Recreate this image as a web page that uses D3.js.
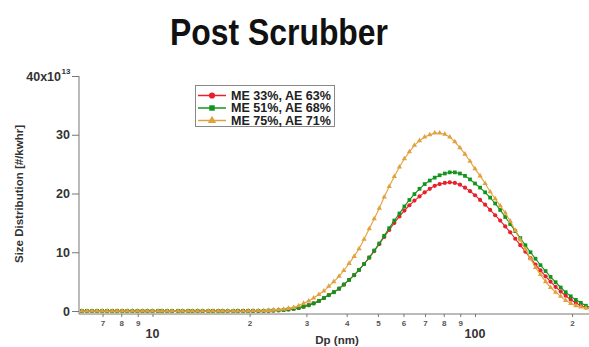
<!DOCTYPE html>
<html>
<head>
<meta charset="utf-8">
<script src="https://cdn.jsdelivr.net/npm/d3@7"></script>
<style>
  html, body { margin: 0; padding: 0; background: #fff; }
  svg { display: block; }
  text { font-family: "Liberation Sans", Arial, sans-serif; }
</style>
</head>
<body>
<svg id="chart" width="589" height="347"></svg>
<script>
// Mobility diameter bins (nm), 64 channels per decade
const diameters = [
  6.04, 6.26, 6.49, 6.73, 6.98, 7.23, 7.50, 7.77, 8.06, 8.35,
  8.66, 8.98, 9.31, 9.65, 10.0, 10.4, 10.7, 11.1, 11.5, 12.0,
  12.4, 12.9, 13.3, 13.8, 14.3, 14.9, 15.4, 16.0, 16.5, 17.1,
  17.8, 18.4, 19.1, 19.8, 20.5, 21.3, 22.1, 22.9, 23.7, 24.6,
  25.5, 26.4, 27.4, 28.4, 29.4, 30.5, 31.6, 32.8, 34.0, 35.2,
  36.5, 37.9, 39.2, 40.7, 42.2, 43.7, 45.3, 47.0, 48.7, 50.5,
  52.3, 54.2, 56.2, 58.3, 60.4, 62.6, 64.9, 67.3, 69.8, 72.4,
  75.0, 77.7, 80.6, 83.5, 86.6, 89.8, 93.1, 96.5, 100.0, 103.7,
  107.5, 111.4, 115.5, 119.7, 124.1, 128.6, 133.3, 138.2, 143.3, 148.6,
  154.0, 159.6, 165.5, 171.5, 177.8, 184.4, 191.1, 198.1, 205.4, 212.9,
  220.7, 228.8
];

// Size distribution, units of 1e13 #/kWhr
const me33 = [
  0, 0, 0, 0, 0, 0, 0, 0, 0, 0,
  0, 0, 0, 0, 0, 0, 0, 0, 0, 0,
  0, 0, 0, 0, 0, 0, 0, 0, 0, 0,
  0, 0.01, 0.01, 0.01, 0.02, 0.02, 0.03, 0.05, 0.08, 0.12,
  0.18, 0.27, 0.38, 0.53, 0.73, 1.0, 1.3, 1.7, 2.2, 2.7,
  3.2, 3.8, 4.5, 5.3, 6.1, 7.0, 8.0, 9.1, 10.2, 11.4,
  12.6, 13.8, 15.0, 16.1, 17.1, 18.0, 18.8, 19.5, 20.2, 20.8,
  21.3, 21.6, 21.8, 21.9, 21.8, 21.5, 21.0, 20.4, 19.7, 18.9,
  18.1, 17.2, 16.3, 15.4, 14.4, 13.4, 12.3, 11.2, 10.1, 9.0,
  7.9, 6.9, 5.9, 5.0, 4.1, 3.3, 2.6, 1.9, 1.4, 0.9,
  0.6, 0.4
];
const me51 = [
  0, 0, 0, 0, 0, 0, 0, 0, 0, 0,
  0, 0, 0, 0, 0, 0, 0, 0, 0, 0,
  0, 0, 0, 0, 0, 0, 0, 0, 0, 0,
  0, 0.01, 0.01, 0.01, 0.02, 0.02, 0.03, 0.05, 0.08, 0.12,
  0.18, 0.27, 0.38, 0.52, 0.72, 0.98, 1.3, 1.7, 2.2, 2.7,
  3.2, 3.8, 4.5, 5.3, 6.1, 7.0, 8.0, 9.1, 10.3, 11.5,
  12.8, 14.1, 15.4, 16.6, 17.8, 18.9, 19.9, 20.8, 21.6, 22.2,
  22.7, 23.1, 23.4, 23.6, 23.6, 23.4, 23.0, 22.4, 21.7, 21.0,
  20.2, 19.3, 18.3, 17.2, 16.0, 14.8, 13.6, 12.4, 11.2, 10.0,
  8.9, 7.8, 6.8, 5.8, 4.9, 4.0, 3.2, 2.5, 1.9, 1.4,
  0.9, 0.6
];
const me75 = [
  0, 0, 0, 0, 0, 0, 0, 0, 0, 0,
  0, 0, 0, 0, 0, 0, 0, 0, 0, 0,
  0, 0, 0, 0, 0, 0, 0, 0, 0, 0,
  0, 0.01, 0.01, 0.02, 0.03, 0.04, 0.05, 0.1, 0.15, 0.2,
  0.3, 0.45, 0.6, 0.9, 1.3, 1.7, 2.2, 2.8, 3.4, 4.2,
  5.0, 5.9, 6.9, 8.1, 9.3, 10.6, 12.2, 14.0, 15.7, 17.5,
  19.4, 21.2, 22.9, 24.5, 25.9, 27.1, 28.2, 29.0, 29.6, 30.0,
  30.3, 30.3, 30.1, 29.6, 28.8, 27.8, 26.7, 25.5, 24.2, 23.0,
  21.7, 20.3, 19.1, 17.9, 16.7, 15.3, 13.7, 12.1, 10.5, 8.9,
  7.4, 6.2, 5.0, 4.0, 3.2, 2.5, 1.8, 1.3, 0.9, 0.7,
  0.5, 0.35
];

const seriesNames = ["ME 33%, AE 63%", "ME 51%, AE 68%", "ME 75%, AE 71%"];
const seriesColors = ["#e8202a", "#12951e", "#e0a23e"];
const seriesShapes = [d3.symbolCircle, d3.symbolSquare, d3.symbolTriangle];
const seriesSizes = [14, 14, 12];

const yTicks = [0, 10, 20, 30];
const yTop = 40;
const yExponent = "13";
const xMinorTicks = [7, 8, 9, 10, 20, 30, 40, 50, 60, 70, 80, 90, 100, 200];
const xMajorTicks = [10, 100];

const svg = d3.select("#chart");

const x = d3.scaleLog().domain([10, 100]).range([152.5, 475]);
const y = d3.scaleLinear().domain([0, yTop]).range([311, 76]);
const plotLeft = 79, plotRight = 589, axisY = 314;

// Title
svg.append("text")
  .attr("x", 170).attr("y", 45)
  .attr("textLength", 218).attr("lengthAdjust", "spacingAndGlyphs")
  .style("font-size", "37px").style("font-weight", "bold").attr("fill", "#111")
  .text("Post Scrubber");

// Plot clip
svg.append("defs").append("clipPath").attr("id", "plotclip")
  .append("rect").attr("x", plotLeft).attr("y", 60).attr("width", plotRight - plotLeft).attr("height", 260);

const axisColor = "#777";
const labelColor = "#333";

// Y axis
const yAxis = svg.append("g").attr("transform", `translate(${plotLeft},0)`)
  .call(d3.axisLeft(y).tickValues(yTicks.concat([yTop])).tickSize(7).tickPadding(2)
    .tickFormat(d => d === yTop ? "" : d));
yAxis.select(".domain").remove();
yAxis.selectAll("line").attr("stroke", axisColor);
yAxis.selectAll("text").style("font-size", "12.5px").style("font-weight", "bold").attr("fill", labelColor);
svg.append("line").attr("x1", plotLeft).attr("x2", plotLeft)
  .attr("y1", y(yTop)).attr("y2", axisY).attr("stroke", axisColor);

// Top tick label with exponent
svg.append("text")
  .attr("x", 61).attr("y", y(yTop) + 4.5).attr("text-anchor", "end")
  .style("font-size", "12.5px").style("font-weight", "bold").attr("fill", labelColor)
  .text(yTop + "x10");
svg.append("text")
  .attr("x", 61.5).attr("y", y(yTop) - 2)
  .style("font-size", "8px").style("font-weight", "bold").attr("fill", labelColor)
  .text(yExponent);

// Y axis title
svg.append("text")
  .attr("transform", `translate(23,194) rotate(-90)`)
  .attr("text-anchor", "middle")
  .style("font-size", "11.5px").style("font-weight", "bold").attr("fill", labelColor)
  .text("Size Distribution [#/kwhr]");

// X axis
const xAxis = svg.append("g").attr("transform", `translate(0,${axisY})`)
  .call(d3.axisBottom(x).tickValues(xMinorTicks).tickSize(3).tickPadding(3)
    .tickFormat(d => xMajorTicks.includes(d) ? "" : String(d).charAt(0)));
xAxis.select(".domain").remove();
xAxis.selectAll("line").attr("stroke", axisColor);
xAxis.selectAll("text").style("font-size", "8px").style("font-weight", "bold").attr("fill", "#555");
svg.append("line").attr("x1", plotLeft).attr("x2", plotRight)
  .attr("y1", axisY).attr("y2", axisY).attr("stroke", axisColor);

svg.selectAll(".major").data(xMajorTicks).enter().append("text")
  .attr("class", "major")
  .attr("x", d => x(d)).attr("y", 338).attr("text-anchor", "middle")
  .style("font-size", "12.5px").style("font-weight", "bold").attr("fill", labelColor)
  .text(d => d);

svg.append("text")
  .attr("x", 337).attr("y", 344).attr("text-anchor", "middle")
  .style("font-size", "11.5px").style("font-weight", "bold").attr("fill", labelColor)
  .text("Dp (nm)");

// Series
const seriesData = [me33, me51, me75];
const plot = svg.append("g").attr("clip-path", "url(#plotclip)");
const line = d3.line().x(d => x(d[0])).y(d => y(d[1]));

seriesData.forEach((vals, k) => {
  const pts = diameters.map((d, i) => [d, vals[i]]);
  const g = plot.append("g");
  g.append("path").datum(pts)
    .attr("d", line).attr("fill", "none")
    .attr("stroke", seriesColors[k]).attr("stroke-width", 1.1);
  g.selectAll("path.pt").data(pts).enter().append("path")
    .attr("class", "pt")
    .attr("transform", d => `translate(${x(d[0])},${y(d[1])})`)
    .attr("d", d3.symbol().type(seriesShapes[k]).size(seriesSizes[k]))
    .attr("fill", seriesColors[k]);
});

// Legend
const legend = svg.append("g");
legend.append("rect").attr("x", 195.5).attr("y", 85.5).attr("width", 139).attr("height", 41)
  .attr("fill", "#fff").attr("stroke", "#888");
seriesNames.forEach((name, k) => {
  const ly = 95.5 + k * 12.5;
  legend.append("line").attr("x1", 198).attr("x2", 226).attr("y1", ly).attr("y2", ly)
    .attr("stroke", seriesColors[k]).attr("stroke-width", 1.5);
  legend.append("path").attr("transform", `translate(212,${ly})`)
    .attr("d", d3.symbol().type(seriesShapes[k]).size(30)).attr("fill", seriesColors[k]);
  legend.append("text").attr("x", 231).attr("y", ly + 4)
    .attr("textLength", 100).attr("lengthAdjust", "spacingAndGlyphs")
    .style("font-size", "12px").style("font-weight", "bold").attr("fill", "#222")
    .text(name);
});
</script>
</body>
</html>
